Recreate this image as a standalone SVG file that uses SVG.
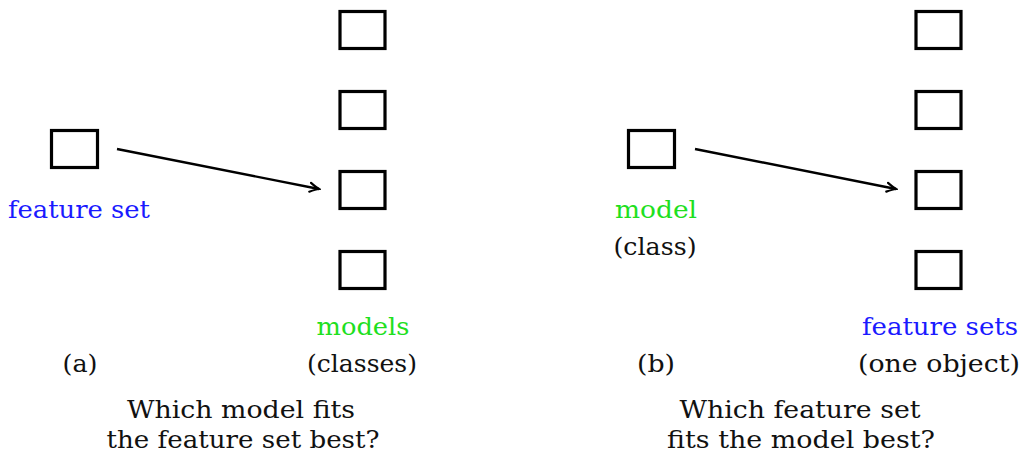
<svg xmlns="http://www.w3.org/2000/svg" width="1023" height="455" viewBox="0 0 1023 455">
  <style>
    .box { fill: none; stroke: #000; stroke-width: 3.2; }
    .edge { fill: none; stroke: #000; stroke-width: 2.4; }
    text { font-family: "DejaVu Serif", "Liberation Serif", serif; font-size: 25px; fill: #111; text-anchor: middle; }
    .blue { fill: #1a1aff; }
    .green { fill: #1ee01e; }
  </style>
  <defs>
    <marker id="tip" viewBox="-10 -6 12 12" markerWidth="12" markerHeight="12" refX="0" refY="0" orient="auto" markerUnits="userSpaceOnUse">
      <path d="M -9 -4.5 Q -3 -1 0 0 Q -3 1 -9 4.5" fill="none" stroke="#000" stroke-width="2.2" stroke-linecap="round"/>
    </marker>
  </defs>
  <rect width="1023" height="455" fill="#fff"/>

  <!-- panel (a) -->
  <g id="a-feature-set">
    <rect class="box" x="51.5" y="130.5" width="46" height="37"/>
    <text class="blue" x="79" y="218" textLength="142" lengthAdjust="spacingAndGlyphs">feature set</text>
  </g>
  <g id="a-model-1"><rect class="box" x="340" y="11.5" width="45" height="37"/></g>
  <g id="a-model-2"><rect class="box" x="340" y="91.5" width="45" height="37"/></g>
  <g id="a-model-3"><rect class="box" x="340" y="171.5" width="45" height="37"/></g>
  <g id="a-model-4"><rect class="box" x="340" y="251.5" width="45" height="37"/></g>
  <g id="a-labels">
    <text class="green" x="363" y="335" textLength="93" lengthAdjust="spacingAndGlyphs">models</text>
    <text x="362" y="372" textLength="110" lengthAdjust="spacingAndGlyphs">(classes)</text>
    <text x="80" y="372" textLength="35" lengthAdjust="spacingAndGlyphs">(a)</text>
    <text x="241" y="418" textLength="228" lengthAdjust="spacingAndGlyphs">Which model fits</text>
    <text x="243" y="448" textLength="273" lengthAdjust="spacingAndGlyphs">the feature set best?</text>
  </g>

  <!-- panel (b) -->
  <g id="b-model">
    <rect class="box" x="628.5" y="130.5" width="46" height="37"/>
    <text class="green" x="656" y="218" textLength="82" lengthAdjust="spacingAndGlyphs">model</text>
    <text x="655" y="255" textLength="83" lengthAdjust="spacingAndGlyphs">(class)</text>
  </g>
  <g id="b-feature-set-1"><rect class="box" x="916" y="11.5" width="45" height="37"/></g>
  <g id="b-feature-set-2"><rect class="box" x="916" y="91.5" width="45" height="37"/></g>
  <g id="b-feature-set-3"><rect class="box" x="916" y="171.5" width="45" height="37"/></g>
  <g id="b-feature-set-4"><rect class="box" x="916" y="251.5" width="45" height="37"/></g>
  <g id="b-labels">
    <text class="blue" x="940" y="335" textLength="156" lengthAdjust="spacingAndGlyphs">feature sets</text>
    <text x="939" y="372" textLength="162" lengthAdjust="spacingAndGlyphs">(one object)</text>
    <text x="656" y="372" textLength="38" lengthAdjust="spacingAndGlyphs">(b)</text>
    <text x="800" y="418" textLength="241" lengthAdjust="spacingAndGlyphs">Which feature set</text>
    <text x="801" y="448" textLength="268" lengthAdjust="spacingAndGlyphs">fits the model best?</text>
  </g>

  <!-- connectors -->
  <g id="connectors">
    <line class="edge" x1="117" y1="149" x2="319" y2="189" marker-end="url(#tip)"/>
    <line class="edge" x1="695" y1="149" x2="896" y2="189" marker-end="url(#tip)"/>
  </g>
</svg>
